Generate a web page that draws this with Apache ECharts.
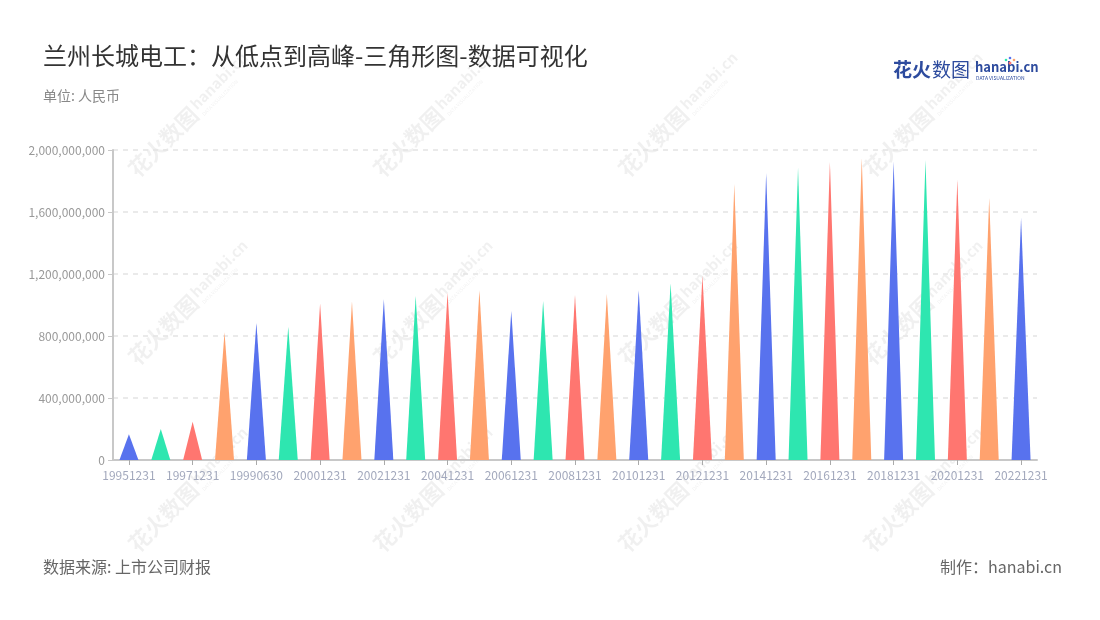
<!DOCTYPE html>
<html>
<head>
<meta charset="utf-8">
<script src="https://cdn.jsdelivr.net/npm/echarts@6/dist/echarts.min.js"></script>
<style>
html,body{margin:0;padding:0;background:#fff;}
#chart{width:1100px;height:620px;}
</style>
</head>
<body>
<div id="chart"></div>
<script>
const categories = ['19951231','19961231','19971231','19981231','19990630','19991231','20001231','20011231','20021231','20031231','20041231','20051231','20061231','20071231','20081231','20091231','20101231','20111231','20121231','20131231','20141231','20151231','20161231','20171231','20181231','20191231','20201231','20211231','20221231'];
const values = [166000000,200000000,247000000,824000000,886000000,860000000,1011000000,1021000000,1037000000,1058000000,1080000000,1097000000,961000000,1028000000,1065000000,1071000000,1097000000,1140000000,1190000000,1780000000,1854000000,1886000000,1925000000,1946000000,1925000000,1935000000,1811000000,1692000000,1563000000];
const palette = ['#5872EE','#2EE6B0','#FF7670','#FFA26E'];
const yTicks = {min:0, max:2000000000, interval:400000000};

const FONT = '"Noto Sans CJK SC","Noto Sans",sans-serif';
const chart = echarts.init(document.getElementById('chart'));

function watermark(cx, cy){
  const c = 'rgba(0,0,0,0.06)';
  return {
    type:'group', x:cx, y:cy, rotation:Math.PI/4, silent:true, z:100,
    children:[
      {type:'text', style:{text:'花火数图', x:-72, y:0, font:'bold 22px '+FONT, fill:c, verticalAlign:'middle'}},
      {type:'text', style:{text:'hanabi.cn', x:18, y:-4, font:'bold 15px '+FONT, fill:c, verticalAlign:'middle'}},
      {type:'text', style:{text:'DATA VISUALIZATION', x:19, y:9, font:'5px '+FONT, fill:c, verticalAlign:'middle'}}
    ]
  };
}
const wm = [];
[183,428,673,918].forEach(x=>{[122,310,497].forEach(y=>wm.push(watermark(x,y)));});

chart.setOption({
  backgroundColor:'#fff',
  textStyle:{fontFamily:FONT},
  title:[
    {text:'兰州长城电工：从低点到高峰-三角形图-数据可视化', left:43, top:44, padding:0, textStyle:{fontSize:24, fontWeight:'normal', color:'#333', fontFamily:FONT}},
    {text:'单位: 人民币', left:43, top:89, padding:0, textStyle:{fontSize:14, fontWeight:'normal', color:'#888', fontFamily:FONT}},
    {text:'数据来源: 上市公司财报', left:43, top:559, padding:0, textStyle:{fontSize:16, fontWeight:'normal', color:'#666', fontFamily:FONT}},
    {text:'制作：hanabi.cn', right:38, top:559, padding:0, textStyle:{fontSize:16, fontWeight:'normal', color:'#666', fontFamily:FONT}}
  ],
  graphic:[
    {type:'text', left:893, top:60, style:{text:'花火', font:'bold 19px '+FONT, fill:'#2D4B9E'}},
    {type:'text', left:932, top:60, style:{text:'数图', font:'19px '+FONT, fill:'#2D4B9E'}},
    {type:'text', left:975, top:61, style:{text:'hanabi.cn', font:'bold 13px '+FONT, fill:'#2D4B9E'}},
    {type:'text', left:976, top:76, style:{text:'DATA VISUALIZATION', font:'5px '+FONT, fill:'#2D4B9E'}},
    {type:'circle', shape:{cx:1010, cy:63, r:1.5}, style:{fill:'#FF7670'}},
    {type:'circle', shape:{cx:1006, cy:60, r:1.3}, style:{fill:'#2EE6B0'}},
    {type:'circle', shape:{cx:1014, cy:60, r:1.3}, style:{fill:'#FFA26E'}},
    {type:'circle', shape:{cx:1010, cy:58, r:1.3}, style:{fill:'#5872EE'}},
    ...wm
  ],
  grid:{left:113, right:63, top:150, bottom:160, containLabel:false},
  xAxis:{
    type:'category', data:categories,
    axisLine:{lineStyle:{color:'#c8c8c8', width:2}},
    axisTick:{show:true, interval:1, alignWithLabel:true, length:5, lineStyle:{color:'#aaa'}},
    axisLabel:{interval:1, color:'#A3A9BD', fontSize:12, margin:9, fontFamily:FONT}
  },
  yAxis:{
    type:'value', min:yTicks.min, max:yTicks.max, interval:yTicks.interval,
    axisLine:{show:true, lineStyle:{color:'#c8c8c8', width:2}},
    axisTick:{show:true, length:5, lineStyle:{color:'#c8c8c8'}},
    axisLabel:{color:'#999', fontSize:12, margin:8, fontFamily:FONT,
      formatter:v=>v.toLocaleString('en-US')},
    splitLine:{show:true, lineStyle:{color:'#e3e3e3', type:[5,5], width:1.5}}
  },
  series:[{
    type:'pictorialBar',
    data:values,
    barWidth:19,
    symbol:'path://M0,100 L50,0 L100,100 Z',
    itemStyle:{color:p=>palette[p.dataIndex%4]},
    z:10
  }]
});
</script>
</body>
</html>
